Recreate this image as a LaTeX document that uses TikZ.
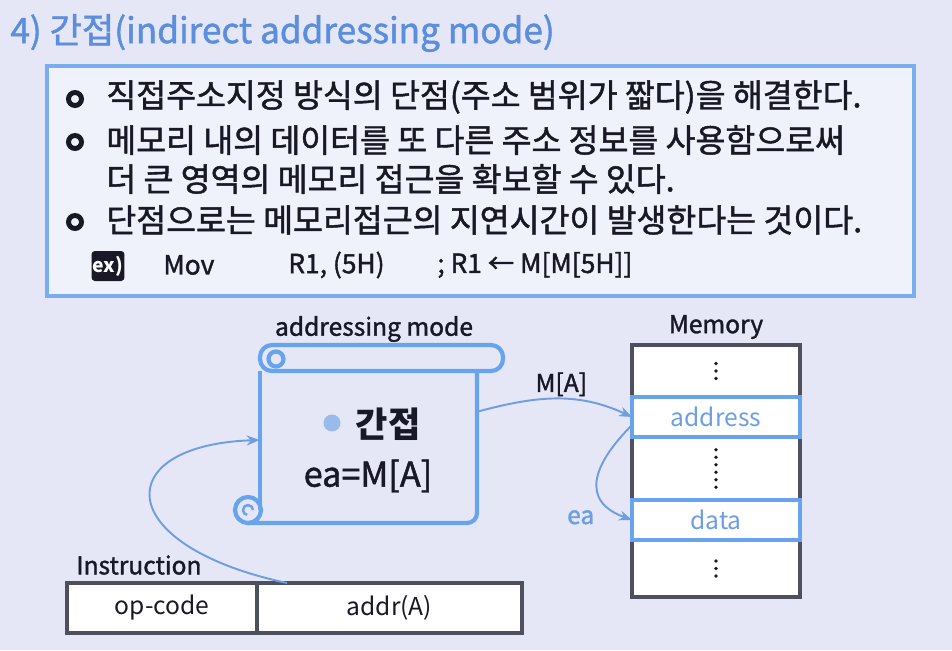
\documentclass[tikz,border=0pt]{standalone}
\usepackage{fontspec}
\setmainfont{Noto Sans CJK KR}
\newfontfamily\midfont{Noto Sans CJK KR}[FakeBold=1.4]
\usetikzlibrary{positioning, arrows.meta, calc}
\definecolor{slidebg}{RGB}{229,231,246}
\definecolor{panelbg}{RGB}{239,241,251}
\definecolor{titleblue}{RGB}{92,142,222}
\definecolor{panelblue}{RGB}{120,174,240}
\definecolor{scrollblue}{RGB}{104,164,238}
\definecolor{linkblue}{RGB}{110,158,226}
\definecolor{memgray}{RGB}{78,80,94}
\definecolor{ink}{RGB}{24,24,38}
\tikzstyle{txt}=[%
      anchor=west, inner sep=0pt, text=ink, font=\midfont\fontsize{18.5}{22}\selectfont
]
\tikzstyle{small}=[%
      inner sep=0pt, text=ink, font=\midfont\fontsize{14}{16}\selectfont
]
\tikzstyle{bul}=[%
      circle, draw=ink, line width=2.8pt, minimum size=0.26cm, inner sep=0pt
]
\tikzstyle{cell}=[%
      rectangle, fill=white, minimum width=3.36cm, inner sep=0pt, outer sep=0pt,
      text=linkblue, font=\fontsize{14}{16}\selectfont
]
\tikzstyle{field}=[%
      rectangle, draw=memgray, fill=white, line width=2.3pt, minimum height=1cm,
      inner sep=0pt, outer sep=0pt, text=ink, font=\fontsize{14}{16}\selectfont
]
\tikzstyle{link}=[%
      draw=linkblue, line width=1.1pt, -{Stealth[length=2.6mm,width=2mm]}
]
\tikzstyle{scrollline}=[draw=scrollblue, line width=2.4pt]

\begin{document}
\begin{tikzpicture}[x=0.02cm, y=-0.02cm]
    \fill[slidebg] (0,0) rectangle (952,650);
    \useasboundingbox (0,0) rectangle (952,650);

    % title and text panel
    \node[anchor=west, inner sep=0pt, text=titleblue, font=\midfont\fontsize{20}{24}\selectfont]
        (title) at (10,33) {4) 간접(indirect addressing mode)};
    \draw[panelblue, line width=2.3pt, fill=panelbg] (47,66) rectangle (914,296);
    \node[bul] (b1) at (75,99)  {};
    \node[txt] (l1) at (106,97)  {직접주소지정 방식의 단점(주소 범위가 짧다)을 해결한다.};
    \node[bul] (b2) at (75,142) {};
    \node[txt] (l2) at (106,140) {메모리 내의 데이터를 또 다른 주소 정보를 사용함으로써};
    \node[txt] (l3) at (106,179) {더 큰 영역의 메모리 접근을 확보할 수 있다.};
    \node[bul] (b3) at (75,222) {};
    \node[txt] (l4) at (106,220) {단점으로는 메모리접근의 지연시간이 발생한다는 것이다.};
    \node[fill=ink, rounded corners=2pt, text=white, font=\bfseries\fontsize{11}{13}\selectfont,
          minimum width=0.66cm, minimum height=0.6cm, inner sep=0pt] (ex) at (108,266) {ex)};
    \node[small, anchor=west, font=\midfont\fontsize{15}{17}\selectfont] (mov)  at (163,265) {Mov};
    \node[small, anchor=west, font=\midfont\fontsize{15}{17}\selectfont] (args) at (288,265) {R1, (5H)};
    \node[small, anchor=west, font=\midfont\fontsize{15}{17}\selectfont] (rtl)  at (437,265) {; R1 ← M[M[5H]]};

    % addressing mode scroll
    \node[small] (modelbl) at (374,329) {addressing mode};
    \node[minimum width=4.34cm, minimum height=3.04cm, inner sep=0pt] (mode) at (368.5,447) {};
    \draw[scrollline, rounded corners=0.24cm] (260,345) rectangle (503,371);
    \draw[scrollline] (276,359) circle (0.15cm);
    \draw[scrollline] (260,371) -- (260,510);
    \draw[scrollline, rounded corners=0.2cm] (477,371) -- (477,523) -- (248,523);
    \draw[scrollline] (248,510) circle (0.26cm);
    \draw[scrollline, line width=1.4pt] ($(248,510)+(0.1cm,0)$) arc[start angle=0, end angle=260, radius=0.1cm];
    \node[circle, fill=linkblue!70, minimum size=0.34cm, inner sep=0pt] (dot) at (332,423) {};
    \node[text=ink, font=\bfseries\fontsize{20}{24}\selectfont] (kind) at (388,424) {간접};
    \node[text=ink, font=\midfont\fontsize{19.5}{23}\selectfont] (eaf) at (368,476) {ea=M[A]};

    % instruction
    \node[small, anchor=west] (instr) at (76,565) {Instruction};
    \node[field, minimum width=3.8cm] (opcode) at (162,608) {op-code};
    \node[field, minimum width=5.3cm, right=0pt of opcode] (addr) {addr(A)};

    % memory
    \node[small] (memlbl) at (716,327) {Memory};
    \node[cell, minimum height=1.04cm] (m0) at (716,371) {};
    \node[cell, minimum height=0.8cm, below=0pt of m0] (maddr) {address};
    \node[cell, minimum height=1.26cm, below=0pt of maddr] (mgap) {};
    \node[cell, minimum height=0.8cm, below=0pt of mgap] (mdata) {data};
    \node[cell, minimum height=1.14cm, below=0pt of mdata] (mend) {};
    \draw[memgray, line width=2.8pt] (m0.north west) rectangle (mend.south east);
    \draw[scrollblue, line width=2.4pt] (maddr.north west) rectangle (maddr.south east);
    \draw[scrollblue, line width=2.4pt] (mdata.north west) rectangle (mdata.south east);
    \foreach \k in {-1,0,1} {
      \fill[ink] ($(m0.center)+(0,\k*7.5)$) circle (1.1pt);
      \fill[ink] ($(mend.center)+(0,\k*7.5)$) circle (1.1pt);
    }
    \foreach \k in {-2.5,-1.5,...,2.5}
      \fill[ink] ($(mgap.center)+(0,\k*7.5)$) circle (1.1pt);

    % connectors
    \draw[link] ($(addr.north west)+(30,0)$) .. controls (110,545) and (110,445) .. ($(mode.west)+(0,-7)$);
    \draw[link] ($(mode.north east)+(0,41)$) to[out=15, in=155]
        node[small, pos=0.5, above=1pt, xshift=3pt] {M[A]} (maddr.west);
    \draw[link] ($(maddr.west)+(0,8)$) to[out=225, in=160, looseness=1.5]
        node[small, text=linkblue, pos=0.85, left=10pt, yshift=-4pt] {ea} (mdata.west);
\end{tikzpicture}
\end{document}
